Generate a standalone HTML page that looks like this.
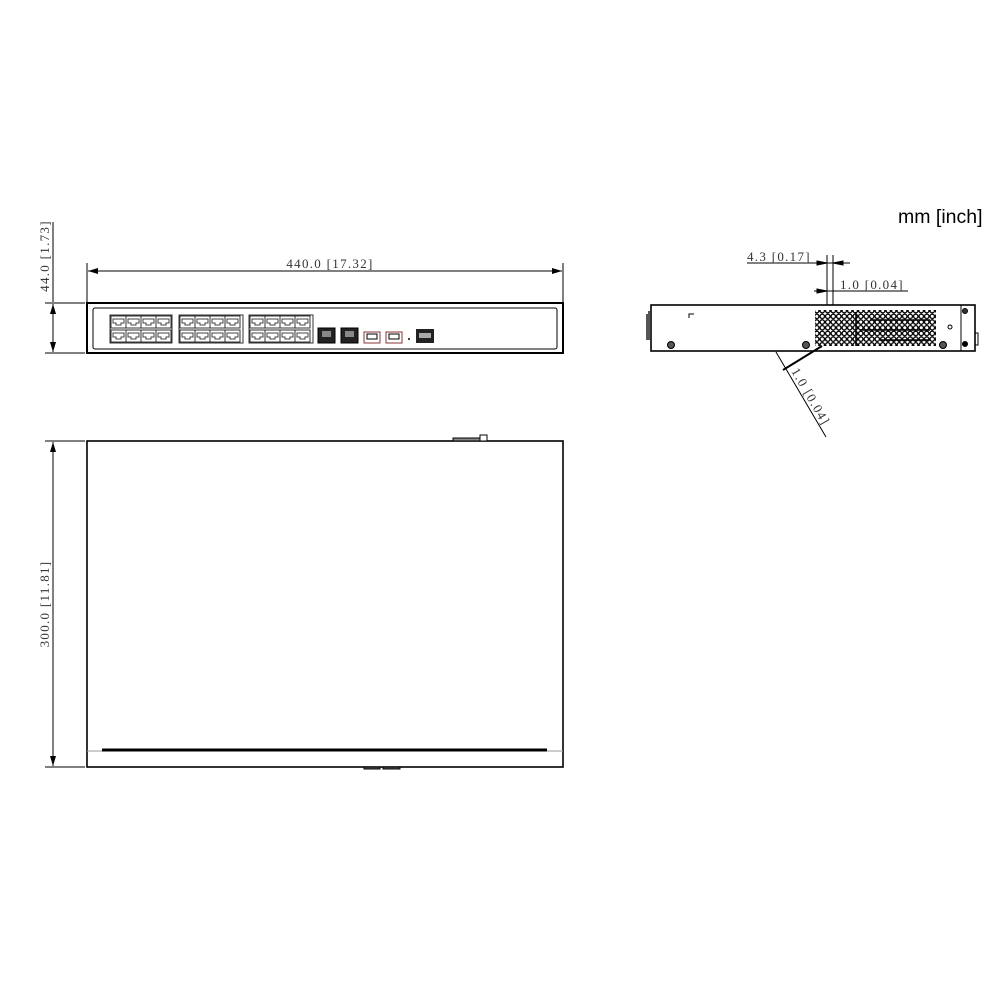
<!DOCTYPE html>
<html><head><style>body{margin:0;background:#fff}svg{display:block}.t{font-family:"Liberation Serif",serif;font-size:13px;fill:#333;letter-spacing:1.3px}</style></head><body>
<svg width="1000" height="1000" viewBox="0 0 1000 1000" xmlns="http://www.w3.org/2000/svg">
<defs>
<marker id="ar" markerWidth="10" markerHeight="6" refX="10" refY="3" orient="auto-start-reverse" markerUnits="userSpaceOnUse"><path d="M0,0L10,3L0,6z" fill="#000"/></marker>
<pattern id="vent" width="5.5" height="5.7" patternUnits="userSpaceOnUse"><circle cx="2.75" cy="2.85" r="2.2" fill="#fff" stroke="#000" stroke-width="1.3"/></pattern>
<g id="port"><rect x="0" y="0" width="15" height="12" fill="none" stroke="#333" stroke-width="1"/><path d="M2,3h11v4h-3v2h-5v-2h-3z" fill="#fff" stroke="#444" stroke-width="1"/></g>
</defs>
<text x="898" y="223" font-family="Liberation Sans,sans-serif" font-size="19.5" fill="#000">mm [inch]</text>

<!-- front view -->
<g stroke="#000" fill="none" stroke-width="1">
<line x1="87" y1="263" x2="87" y2="302"/><line x1="563" y1="263" x2="563" y2="302"/>
<line x1="88" y1="271" x2="562" y2="271" marker-start="url(#ar)" marker-end="url(#ar)"/>
<line x1="53" y1="222" x2="53" y2="302"/>
<line x1="53" y1="304" x2="53" y2="352" marker-start="url(#ar)" marker-end="url(#ar)"/>
<line x1="45" y1="303" x2="85" y2="303"/><line x1="45" y1="353" x2="85" y2="353"/>
<rect x="87" y="303" width="476" height="50" stroke-width="2"/>
<rect x="93" y="308" width="464" height="41" rx="2"/>
</g>
<text class="t" x="330" y="268" text-anchor="middle">440.0  [17.32]</text>
<text class="t" transform="translate(49,256) rotate(-90)" text-anchor="middle">44.0  [1.73]</text>
<g>
<rect x="110" y="315" width="62" height="28" fill="none" stroke="#333"/>
<rect x="179" y="315" width="64" height="28" fill="none" stroke="#333"/>
<rect x="249" y="315" width="64" height="28" fill="none" stroke="#333"/>
<g id="grp">
<use href="#port" x="111" y="316"/><use href="#port" x="126" y="316"/><use href="#port" x="141" y="316"/><use href="#port" x="156" y="316"/>
<use href="#port" x="111" y="330"/><use href="#port" x="126" y="330"/><use href="#port" x="141" y="330"/><use href="#port" x="156" y="330"/>
</g>
<use href="#grp" x="69"/><use href="#grp" x="139"/>
<rect x="318" y="328" width="17" height="15" fill="#222" stroke="#000"/><rect x="322" y="331" width="9" height="6" fill="#888"/>
<rect x="341" y="328" width="17" height="15" fill="#222" stroke="#000"/><rect x="345" y="331" width="9" height="6" fill="#888"/>
<rect x="364" y="332" width="16" height="11" fill="#fff" stroke="#833"/><rect x="367" y="334" width="10" height="5" fill="none" stroke="#000"/>
<rect x="386" y="332" width="16" height="11" fill="#fff" stroke="#833"/><rect x="389" y="334" width="10" height="5" fill="none" stroke="#000"/>
<circle cx="409" cy="339" r="1" fill="#000"/>
<rect x="416" y="329" width="18" height="14" fill="#222"/><rect x="419" y="333" width="12" height="5" fill="#aaa"/>
</g>

<!-- top view -->
<g stroke="#000" fill="none" stroke-width="1">
<line x1="53" y1="442" x2="53" y2="766" marker-start="url(#ar)" marker-end="url(#ar)"/>
<line x1="45" y1="441" x2="85" y2="441"/><line x1="45" y1="767" x2="85" y2="767"/>
<rect x="87" y="441" width="476" height="326" stroke-width="1.6"/>
<line x1="87" y1="751" x2="563" y2="751" stroke="#999"/>
<line x1="102" y1="750" x2="547" y2="750" stroke-width="3"/>
<rect x="453" y="438" width="27" height="3" fill="#888"/>
<rect x="480" y="435" width="7" height="6" fill="#fff"/>
<rect x="364" y="767" width="16" height="2" fill="#555"/><rect x="383" y="767" width="17" height="2" fill="#555"/>
</g>
<text class="t" transform="translate(49,604) rotate(-90)" text-anchor="middle">300.0  [11.81]</text>

<!-- side view -->
<g stroke="#000" fill="none" stroke-width="1">
<rect x="651" y="305" width="324" height="46" stroke-width="1.6"/>
<path d="M649,311v29M647,314v26" stroke="#555" stroke-width="2"/>
<line x1="961" y1="305" x2="961" y2="351"/>
<path d="M975,333h3v12h-3"/>
<path d="M689,318v-4h5"/>
<rect x="815" y="310" width="121" height="36" fill="url(#vent)" stroke="none"/>
<path d="M856,312v34M870,320h60M860,330h70M880,340h50" stroke-width="1.5"/>
<circle cx="671" cy="345" r="3.5" fill="#555"/><circle cx="806" cy="345" r="3.5" fill="#555"/><circle cx="943" cy="345" r="3.5" fill="#555"/>
<circle cx="965" cy="311" r="2.5" fill="#333"/><circle cx="965" cy="344" r="2.5" fill="#000"/><circle cx="950" cy="327" r="2"/>
<line x1="747" y1="263" x2="850" y2="263"/>
<line x1="827" y1="255" x2="827" y2="305"/><line x1="833" y1="255" x2="833" y2="305"/>
<line x1="814" y1="291" x2="908" y2="291"/>
<path d="M817,261l10,2l-10,2z M843,261l-10,2l10,2z" fill="#000"/>
<path d="M817,289l10,2l-10,2z" fill="#000"/>
<line x1="776" y1="352" x2="826" y2="437"/>
<line x1="783" y1="370" x2="822" y2="346" stroke-width="2"/>
</g>
<text class="t" x="747" y="261">4.3  [0.17]</text>
<text class="t" x="840" y="289">1.0  [0.04]</text>
<text class="t" transform="translate(791,371) rotate(60)">1.0  [0.04]</text>
</svg>
</body></html>
